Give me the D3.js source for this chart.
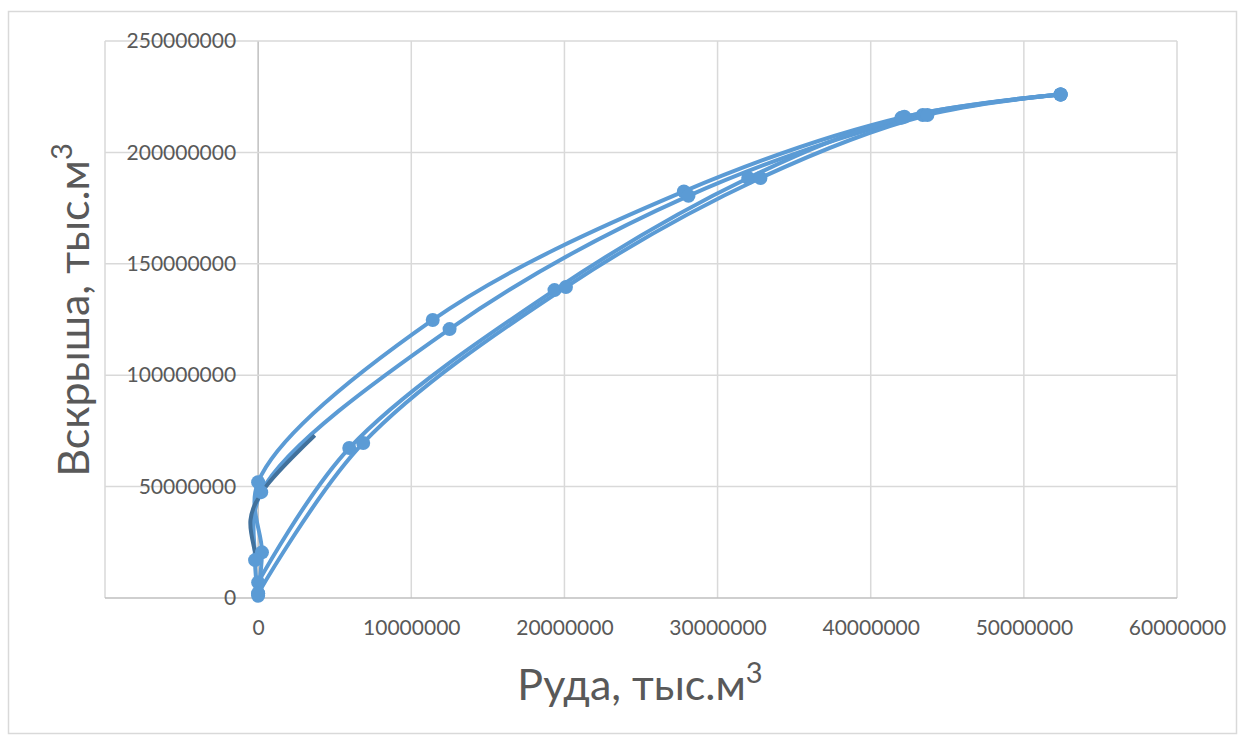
<!DOCTYPE html>
<html><head><meta charset="utf-8">
<script src="https://cdn.jsdelivr.net/npm/d3@7"></script>
<style>body{margin:0;background:#fff}svg{display:block}</style>
</head><body>
<svg id="c" width="1246" height="736"></svg>
<script>
// Data (Руда, Вскрыша) in тыс.м3
const seriesA = [[0,2e6],[0.25e6,20.5e6],[0,52e6],[11.4e6,124.8e6],[27.8e6,182.5e6],[42.2e6,216e6],[52.4e6,226e6]];
const seriesB = [[0,1e6],[-0.2e6,17e6],[0.2e6,47.5e6],[12.5e6,120.7e6],[28.1e6,180.5e6],[43.4e6,216.8e6],[52.4e6,226e6]];
const seriesC = [[0,7e6],[5.95e6,67.3e6],[19.35e6,138.2e6],[32.0e6,188.5e6],[42.0e6,215.5e6],[52.4e6,226e6]];
const seriesD = [[0,2e6],[6.86e6,69.6e6],[20.1e6,139.6e6],[32.8e6,188.5e6],[43.7e6,216.8e6],[52.4e6,226e6]];
const trendLine = [[0,15.7e6],[-0.5e6,35e6],[0.3e6,48e6],[3.7e6,73e6]];
const xTicks = [0,10000000,20000000,30000000,40000000,50000000,60000000];
const yTicks = [0,50000000,100000000,150000000,200000000,250000000];
const xGrid = [-10000000,0,10000000,20000000,30000000,40000000,50000000,60000000];
const xTitle = "Руда, тыс.м";
const yTitle = "Вскрыша, тыс.м";

const svg = d3.select("#c");
const font = "Lato, 'Open Sans', sans-serif";
svg.append("rect").attr("x",8.5).attr("y",11.5).attr("width",1228).attr("height",722)
  .attr("fill","#fff").attr("stroke","#d9d9d9").attr("stroke-width",1.5);

const x = d3.scaleLinear().domain([-10000000,60000000]).range([105,1177]);
const y = d3.scaleLinear().domain([0,250000000]).range([598,41]);

const g = svg.append("g");
g.selectAll(".vg").data(xGrid).join("line")
  .attr("x1",d=>x(d)).attr("x2",d=>x(d)).attr("y1",y(0)).attr("y2",y(250000000))
  .attr("stroke",d=>d===0?"#bfbfbf":"#d9d9d9").attr("stroke-width",1.5);
g.selectAll(".hg").data(yTicks).join("line")
  .attr("x1",x(-10000000)).attr("x2",x(60000000)).attr("y1",d=>y(d)).attr("y2",d=>y(d))
  .attr("stroke",d=>d===0?"#bfbfbf":"#d9d9d9").attr("stroke-width",1.5);

// Axes via d3 axis generators
const xAxis = d3.axisBottom(x).tickValues(xTicks).tickSize(0).tickPadding(22).tickFormat(d3.format("d"));
const yAxis = d3.axisLeft(y).tickValues(yTicks).tickSize(0).tickPadding(22).tickFormat(d3.format("d"));
const gx = svg.append("g").attr("transform",`translate(0,${y(0)})`).call(xAxis);
const gy = svg.append("g").attr("transform",`translate(${x(0)},0)`).call(yAxis);
[gx,gy].forEach(a=>{a.select(".domain").remove();
  a.selectAll("text").attr("fill","#595959").style("font-family",font).style("font-size","21px");});

const line = d3.line().x(d=>x(d[0])).y(d=>y(d[1])).curve(d3.curveCatmullRom.alpha(0.5));
const blue = "#5b9bd5";
[seriesA,seriesB,seriesC,seriesD].forEach(s=>{
  svg.append("path").datum(s).attr("d",line).attr("fill","none").attr("stroke",blue).attr("stroke-width",4);
});
svg.append("path").datum(trendLine).attr("d",line).attr("fill","none").attr("stroke","#41719c").attr("stroke-width",4);
[seriesA,seriesB,seriesC,seriesD].forEach(s=>{
  svg.append("g").selectAll("circle").data(s).join("circle")
    .attr("cx",d=>x(d[0])).attr("cy",d=>y(d[1])).attr("r",7).attr("fill",blue);
});

// Titles
const xt = svg.append("text").attr("x",640).attr("y",700).attr("text-anchor","middle")
  .attr("fill","#595959").style("font-family",font).style("font-size","43px").text(xTitle);
xt.append("tspan").attr("dy",-17).style("font-size","29px").text("3");
const yt = svg.append("text").attr("transform","translate(89,310) rotate(-90)").attr("text-anchor","middle")
  .attr("fill","#595959").style("font-family",font).style("font-size","43px").text(yTitle);
yt.append("tspan").attr("dy",-17).style("font-size","29px").text("3");
</script>
</body></html>
